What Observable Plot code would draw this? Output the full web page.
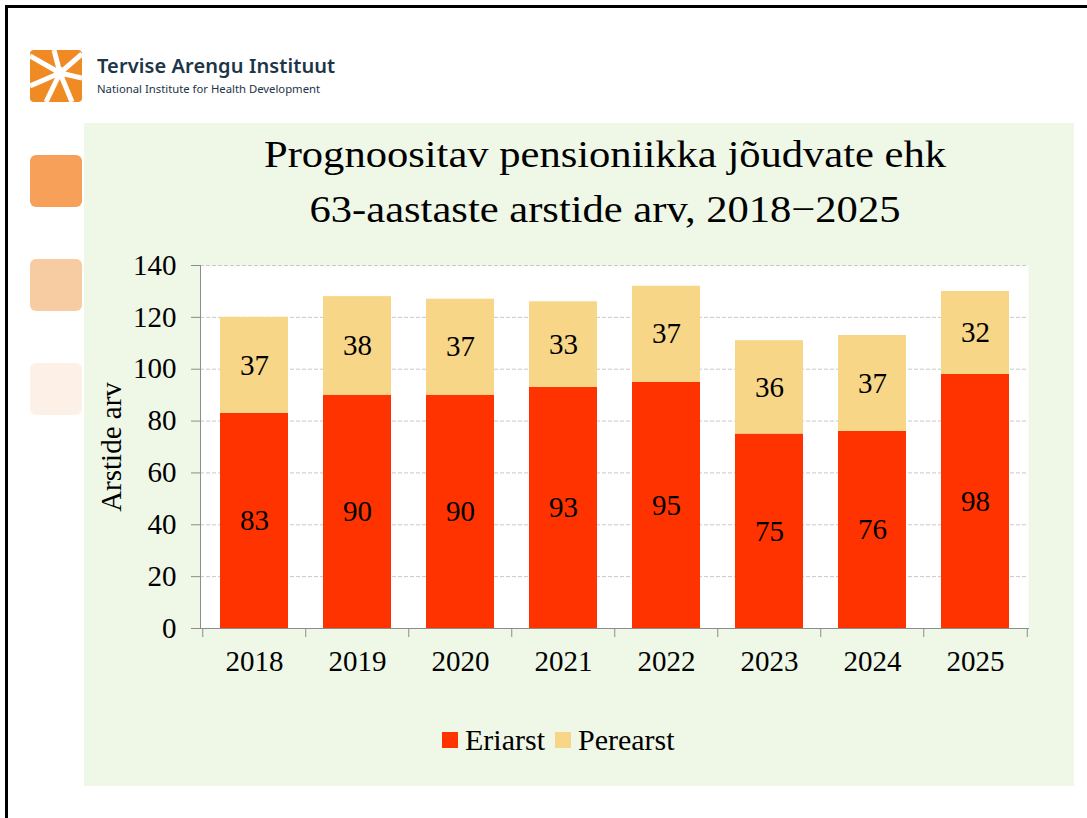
<!DOCTYPE html>
<html>
<head>
<meta charset="utf-8">
<script src="https://cdn.jsdelivr.net/npm/d3@7"></script>
<script src="https://cdn.jsdelivr.net/npm/@observablehq/plot@0.6"></script>
<style>
  html, body { margin: 0; padding: 0; background: #fff; }
  #page { position: relative; width: 1087px; height: 818px; overflow: hidden; background: #fff; }
  #frame { position: absolute; left: 5px; top: 5px; width: 1100px; height: 900px; border-top: 3px solid #000; border-left: 3px solid #000; }
  #panel { position: absolute; left: 84px; top: 123px; width: 990px; height: 663px; background: #EFF7E7; }
  .sq { position: absolute; left: 30px; width: 52px; height: 52px; border-radius: 6px; }
  #title { position: absolute; left: 205px; top: 127px; width: 800px; text-align: center;
           font-family: "Liberation Serif", "Times New Roman", serif; font-size: 38px; line-height: 55px; color: #000;
           transform: scaleX(1.12); transform-origin: 400px 0; }
  #chart { position: absolute; left: 84px; top: 250px; }
  #chart svg, #chart svg text { font-family: "Liberation Serif", "Times New Roman", serif !important; }
  #legend { position: absolute; left: 442px; top: 723px; display: flex; align-items: center;
            font-family: "Liberation Serif", "Times New Roman", serif; font-size: 30px; color: #000; }
  .sw { width: 16px; height: 16px; display: inline-block; margin-right: 7px; }
  #logoText1 { position: absolute; left: 97px; top: 52px; font-family: "Noto Sans", "Open Sans", sans-serif; font-weight: 600; font-size: 20px; color: #1d3547; letter-spacing: 0.1px; }
  #logoText2 { position: absolute; left: 97px; top: 81px; font-family: "Noto Sans", "Open Sans", sans-serif; font-size: 11.3px; color: #1d3547; }
</style>
</head>
<body>
<div id="page">
  <div id="frame"></div>
  <svg id="logo" style="position:absolute;left:30px;top:50px" width="52" height="52" viewBox="0 0 52 52">
    <rect x="0" y="0" width="52" height="52" rx="4" fill="#F08A24"/>
    <g stroke="#fff" stroke-width="5" stroke-linecap="butt">
      <line x1="30" y1="23" x2="0" y2="6"/>
      <line x1="30" y1="23" x2="24" y2="0"/>
      <line x1="30" y1="23" x2="52" y2="4"/>
      <line x1="30" y1="23" x2="52" y2="28"/>
      <line x1="30" y1="23" x2="42" y2="52"/>
      <line x1="30" y1="23" x2="16" y2="52"/>
      <line x1="30" y1="23" x2="0" y2="36"/>
    </g>
    <circle cx="30" cy="23" r="6" fill="#fff"/>
  </svg>
  <div id="logoText1">Tervise Arengu Instituut</div>
  <div id="logoText2">National Institute for Health Development</div>
  <div class="sq" style="top:155px;background:#F6A05A"></div>
  <div class="sq" style="top:259px;background:#F8CCA2"></div>
  <div class="sq" style="top:363px;background:#FDF0E7"></div>
  <div id="panel"></div>
  <div id="title">Prognoositav pensioniikka jõudvate ehk<br>63-aastaste arstide arv, 2018−2025</div>
  <div id="chart"></div>
  <div id="legend">
    <span class="sw" id="sw1"></span><span>Eriarst</span>
    <span class="sw" id="sw2" style="margin-left:10px"></span><span>Perearst</span>
  </div>
</div>
<script>
const years = ["2018", "2019", "2020", "2021", "2022", "2023", "2024", "2025"];
const eriarst = [83, 90, 90, 93, 95, 75, 76, 98];
const perearst = [37, 38, 37, 33, 37, 36, 37, 32];
const seriesNames = ["Eriarst", "Perearst"];
const seriesColors = ["#FF3300", "#F7D687"];
const yTicks = [0, 20, 40, 60, 80, 100, 120, 140];

document.getElementById("sw1").style.background = seriesColors[0];
document.getElementById("sw2").style.background = seriesColors[1];

const rows = [];
years.forEach((y, i) => rows.push({year: y, type: seriesNames[0], value: eriarst[i]}));
years.forEach((y, i) => rows.push({year: y, type: seriesNames[1], value: perearst[i]}));

const W = 990, H = 420, mL = 116, mR = 46, mT = 15, mB = 42;
const step = (W - mL - mR) / years.length;
const serif = "Liberation Serif, Times New Roman, serif";

const chart = Plot.plot({
  width: W, height: H,
  marginLeft: mL, marginRight: mR, marginTop: mT, marginBottom: mB,
  style: {background: "transparent", fontFamily: serif, color: "#000", overflow: "visible"},
  x: {domain: years, paddingInner: 0.343, paddingOuter: 0.1715, label: null},
  y: {domain: [0, 140], label: null},
  color: {domain: seriesNames, range: seriesColors},
  marks: [
    Plot.frame({fill: "white", stroke: null}),
    Plot.gridY(yTicks.filter(d => d > 0), {stroke: "#c8c8c8", strokeOpacity: 1, strokeDasharray: "4,2"}),
    Plot.barY(rows, Plot.stackY({x: "year", y: "value", fill: "type", order: seriesNames, inset: 0})),
    Plot.text(rows, Plot.stackY({x: "year", y: "value", z: "type", order: seriesNames, text: d => String(d.value), fontSize: 29, fill: "#000", fontFamily: serif})),
    Plot.frame({anchor: "left", stroke: "#8c8c8c"}),
    Plot.frame({anchor: "bottom", stroke: "#8c8c8c"}),
    Plot.axisY({ticks: yTicks, tickSize: 9, tickPadding: 15, fontSize: 29, fontFamily: serif, stroke: "#8c8c8c", label: "Arstide arv", labelAnchor: "center", labelArrow: "none", labelOffset: 100}),
    Plot.axisX({tickSize: 0, tickPadding: 22, fontSize: 29, fontFamily: serif}),
    Plot.ruleX(years, {x: d => d, dx: -step / 2, y1: 0, y2: -3.5, stroke: "#8c8c8c"}),
    Plot.ruleX(years.slice(-1), {x: d => d, dx: step / 2, y1: 0, y2: -3.5, stroke: "#8c8c8c"})
  ]
});
document.getElementById("chart").appendChild(chart);
</script>
</body>
</html>
